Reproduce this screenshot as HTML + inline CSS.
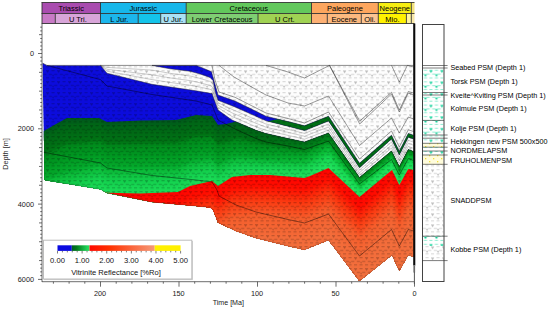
<!DOCTYPE html>
<html lang="en"><head><meta charset="utf-8"><title>Burial history - Vitrinite Reflectance</title>
<style>
html,body{margin:0;padding:0;background:#fff;}
body{width:550px;height:310px;overflow:hidden;}
svg{display:block;position:absolute;left:0;top:0;}
.ylab{position:absolute;left:-34px;top:148.5px;width:80px;height:10px;line-height:10px;text-align:center;font:7.3px 'Liberation Sans',sans-serif;color:#2c2c2c;transform:rotate(-90deg);transform-origin:center;white-space:nowrap;}
</style></head><body>
<svg width="550" height="310" viewBox="0 0 550 310" font-family="'Liberation Sans', sans-serif" font-size="7.3" fill="#1a1a1a">
<defs>
<pattern id="lith" width="11" height="11" patternUnits="userSpaceOnUse" x="2" y="3.2">
 <g fill="#000" fill-opacity="0.16">
  <path d="M0 1h3.1v1h-3.1zM5.5 1h3.1v1h-3.1zM2.75 4.67h3.1v1h-3.1zM8.25 4.67h2.75v1h-2.75zM0 4.67h.35v1h-.35zM0 8.33h3.1v1h-3.1zM5.5 8.33h3.1v1h-3.1z"/>
 </g>
 <g fill="#000" fill-opacity="0.27">
  <path d="M0.2 2h2.8l-1.4 2zM5.7 5.67h2.8l-1.4 2z"/>
 </g>
</pattern>
<pattern id="lithC" width="11" height="11" patternUnits="userSpaceOnUse" x="2" y="3.2">
 <g fill="#000" fill-opacity="0.24">
  <path d="M0 1h3.1v1h-3.1zM5.5 1h3.1v1h-3.1zM2.75 4.67h3.1v1h-3.1zM8.25 4.67h2.75v1h-2.75zM0 4.67h.35v1h-.35zM0 8.33h3.1v1h-3.1zM5.5 8.33h3.1v1h-3.1z"/>
 </g>
 <g fill="#000" fill-opacity="0.24">
  <path d="M0.4 2h2.4l-1.2 1.8zM5.9 5.67h2.4l-1.2 1.8z"/>
 </g>
</pattern>
<pattern id="lithG" width="11" height="11.6" patternUnits="userSpaceOnUse" x="0.4" y="10.8">
 <g fill="#3fe0b0" fill-opacity="0.6">
  <path d="M0 1h3.1v1h-3.1zM5.5 1h3.1v1h-3.1zM2.75 4.87h3.1v1h-3.1zM8.25 4.87h2.75v1h-2.75zM0 4.87h.35v1h-.35zM0 8.73h3.1v1h-3.1zM5.5 8.73h3.1v1h-3.1z"/>
 </g>
 <g fill="#00cc90" fill-opacity="0.95">
  <path d="M0 1.6h3.2l-1.6 2.6zM5.5 5.47h3.2l-1.6 2.6z"/>
 </g>
</pattern>
<pattern id="lithY" width="8" height="6" patternUnits="userSpaceOnUse" x="0" y="1">
 <rect width="8" height="6" fill="#fffcdc"/>
 <g fill="#f2df3a"><rect x="1" y="1" width="1.3" height="1.3"/><rect x="5" y="4" width="1.3" height="1.3"/></g>
</pattern>
<clipPath id="plotclip"><rect x="42.5" y="24" width="371.5" height="257.5"/></clipPath>
</defs>
<rect width="550" height="310" fill="#fff"/>
<g clip-path="url(#plotclip)">
<defs><clipPath id="body"><polygon points="42.3,63.0 47.0,65.4 413.5,65.4 413.5,257.0 408.3,255.0 399.3,270.7 392.0,255.0 359.5,281.0 328.5,240.0 304.5,249.7 288.0,246.0 256.0,238.0 236.0,231.0 218.0,222.5 213.0,209.5 210.0,207.5 196.0,206.0 152.0,202.0 107.0,193.0 100.5,189.3 47.0,180.4 44.8,180.0"/></clipPath>
<clipPath id="mainbody"><polygon points="42.3,63.0 47.0,65.4 100.5,65.4 107.0,73.2 152.0,84.3 196.0,90.8 212.0,93.6 218.0,110.0 232.0,120.0 256.0,130.3 266.0,133.5 288.0,138.5 304.5,142.0 328.5,133.0 359.5,177.5 391.5,151.0 399.3,166.5 408.3,149.5 413.5,151.5 413.5,257.0 408.3,255.0 399.3,270.7 392.0,255.0 359.5,281.0 328.5,240.0 304.5,249.7 288.0,246.0 256.0,238.0 236.0,231.0 218.0,222.5 213.0,209.5 210.0,207.5 196.0,206.0 152.0,202.0 107.0,193.0 100.5,189.3 47.0,180.4 44.8,180.0"/></clipPath>
<clipPath id="hekk"><polygon points="152.0,65.4 170.0,65.4 190.0,65.4 196.5,65.4 200.0,66.9 210.0,71.1 211.5,71.7 213.0,77.1 215.5,86.0 218.0,95.0 235.0,101.0 266.0,116.2 288.0,121.6 304.5,125.8 328.5,116.2 359.5,163.2 391.5,135.2 399.3,151.2 408.3,133.4 413.5,135.2 413.5,139.0 408.3,137.2 399.3,155.0 391.5,139.0 359.5,167.8 328.5,121.0 304.5,130.6 288.0,126.2 266.0,120.8 235.0,107.0 218.0,100.3 215.5,93.0 213.0,80.5 211.5,79.0 210.0,77.5 200.0,74.0 196.5,73.1 190.0,71.3 170.0,68.8 152.0,65.4"/></clipPath>
</defs>
<polygon points="42.3,63.0 47.0,65.4 413.5,65.4 413.5,257.0 408.3,255.0 399.3,270.7 392.0,255.0 359.5,281.0 328.5,240.0 304.5,249.7 288.0,246.0 256.0,238.0 236.0,231.0 218.0,222.5 213.0,209.5 210.0,207.5 196.0,206.0 152.0,202.0 107.0,193.0 100.5,189.3 47.0,180.4 44.8,180.0" fill="#fdfdfd"/>
<polygon points="42.3,63.0 47.0,65.4 413.5,65.4 413.5,257.0 408.3,255.0 399.3,270.7 392.0,255.0 359.5,281.0 328.5,240.0 304.5,249.7 288.0,246.0 256.0,238.0 236.0,231.0 218.0,222.5 213.0,209.5 210.0,207.5 196.0,206.0 152.0,202.0 107.0,193.0 100.5,189.3 47.0,180.4 44.8,180.0" fill="url(#lith)"/>
<g clip-path="url(#mainbody)">
<rect x="42" y="60" width="373" height="225" fill="#0c0cdc"/>
<linearGradient id="gg0" gradientUnits="userSpaceOnUse" x1="262" y1="0" x2="345" y2="0"><stop offset="0" stop-color="#00591c"/><stop offset="1" stop-color="#00671b"/></linearGradient>
<polygon points="37.0,132.0 42.0,132.0 56.0,124.0 67.0,118.0 70.0,118.0 99.0,118.0 107.0,122.0 140.0,120.5 176.0,120.0 178.0,119.5 190.0,116.5 196.0,115.0 212.0,116.0 218.0,124.7 226.0,124.0 232.0,122.5 238.0,121.0 250.0,125.2 256.0,127.3 266.0,130.5 270.0,131.4 288.0,135.5 304.5,139.0 310.0,136.9 328.5,130.0 359.5,174.5 391.5,148.0 392.0,149.0 399.3,163.5 408.3,146.5 413.5,148.5 418.5,148.5 418.5,400.0 37.0,400.0" fill="url(#gg0)"/>
<linearGradient id="gg1" gradientUnits="userSpaceOnUse" x1="262" y1="0" x2="345" y2="0"><stop offset="0" stop-color="#005f19"/><stop offset="1" stop-color="#006e1a"/></linearGradient>
<polygon points="37.0,134.6 42.0,134.6 56.0,126.8 67.0,121.0 70.0,120.9 99.0,120.5 107.0,124.5 140.0,123.1 176.0,122.6 178.0,122.1 190.0,119.0 196.0,117.5 212.0,118.3 218.0,126.9 226.0,126.0 232.0,124.4 238.0,123.0 250.0,127.0 256.0,129.0 266.0,132.1 270.0,133.0 288.0,137.0 304.5,140.4 310.0,138.3 328.5,131.4 359.5,175.3 391.5,148.8 392.0,149.7 399.3,164.3 408.3,147.3 413.5,149.3 418.5,149.3 418.5,400.0 37.0,400.0" fill="url(#gg1)"/>
<linearGradient id="gg2" gradientUnits="userSpaceOnUse" x1="262" y1="0" x2="345" y2="0"><stop offset="0" stop-color="#006516"/><stop offset="1" stop-color="#007418"/></linearGradient>
<polygon points="37.0,137.3 42.0,137.3 56.0,129.6 67.0,123.9 70.0,123.9 99.0,123.1 107.0,127.1 140.0,125.7 176.0,125.1 178.0,124.7 190.0,121.5 196.0,120.0 212.0,120.6 218.0,129.1 226.0,128.1 232.0,126.4 238.0,125.0 250.0,128.8 256.0,130.7 266.0,133.7 270.0,134.5 288.0,138.4 304.5,141.8 310.0,139.7 328.5,132.7 359.5,176.1 391.5,149.6 392.0,150.5 399.3,165.0 408.3,148.1 413.5,150.0 418.5,150.0 418.5,400.0 37.0,400.0" fill="url(#gg2)"/>
<linearGradient id="gg3" gradientUnits="userSpaceOnUse" x1="262" y1="0" x2="345" y2="0"><stop offset="0" stop-color="#006716"/><stop offset="1" stop-color="#007a19"/></linearGradient>
<polygon points="37.0,139.9 42.0,139.9 56.0,132.5 67.0,126.9 70.0,126.8 99.0,125.6 107.0,129.6 140.0,128.3 176.0,127.7 178.0,127.3 190.0,123.9 196.0,122.5 212.0,123.0 218.0,131.3 226.0,130.1 232.0,128.3 238.0,126.9 250.0,130.5 256.0,132.4 266.0,135.3 270.0,136.1 288.0,139.9 304.5,143.2 310.0,141.1 328.5,134.1 359.5,176.9 391.5,150.4 392.0,151.2 399.3,165.8 408.3,148.9 413.5,150.8 418.5,150.8 418.5,400.0 37.0,400.0" fill="url(#gg3)"/>
<linearGradient id="gg4" gradientUnits="userSpaceOnUse" x1="262" y1="0" x2="345" y2="0"><stop offset="0" stop-color="#006915"/><stop offset="1" stop-color="#00811a"/></linearGradient>
<polygon points="37.0,142.6 42.0,142.6 56.0,135.3 67.0,129.8 70.0,129.7 99.0,128.2 107.0,132.1 140.0,130.9 176.0,130.3 178.0,129.9 190.0,126.4 196.0,124.9 212.0,125.3 218.0,133.5 226.0,132.1 232.0,130.3 238.0,128.9 250.0,132.3 256.0,134.1 266.0,136.9 270.0,137.6 288.0,141.4 304.5,144.6 310.0,142.5 328.5,135.4 359.5,177.7 391.5,151.2 392.0,152.0 399.3,166.6 408.3,149.7 413.5,151.6 418.5,151.6 418.5,400.0 37.0,400.0" fill="url(#gg4)"/>
<linearGradient id="gg5" gradientUnits="userSpaceOnUse" x1="262" y1="0" x2="345" y2="0"><stop offset="0" stop-color="#006c15"/><stop offset="1" stop-color="#00871b"/></linearGradient>
<polygon points="37.0,145.2 42.0,145.2 56.0,138.1 67.0,132.8 70.0,132.6 99.0,130.7 107.0,134.6 140.0,133.5 176.0,132.9 178.0,132.4 190.0,128.9 196.0,127.4 212.0,127.6 218.0,135.6 226.0,134.2 232.0,132.2 238.0,130.9 250.0,134.1 256.0,135.8 266.0,138.4 270.0,139.2 288.0,142.8 304.5,146.0 310.0,143.9 328.5,136.8 359.5,178.5 391.5,152.0 392.0,152.7 399.3,167.3 408.3,150.5 413.5,152.3 418.5,152.3 418.5,400.0 37.0,400.0" fill="url(#gg5)"/>
<linearGradient id="gg6" gradientUnits="userSpaceOnUse" x1="262" y1="0" x2="345" y2="0"><stop offset="0" stop-color="#006e15"/><stop offset="1" stop-color="#008d1c"/></linearGradient>
<polygon points="37.0,147.9 42.0,147.9 56.0,140.9 67.0,135.7 70.0,135.6 99.0,133.3 107.0,137.2 140.0,136.1 176.0,135.4 178.0,135.0 190.0,131.4 196.0,129.9 212.0,129.9 218.0,137.8 226.0,136.2 232.0,134.2 238.0,132.9 250.0,135.9 256.0,137.5 266.0,140.0 270.0,140.8 288.0,144.3 304.5,147.4 310.0,145.3 328.5,138.1 359.5,179.3 391.5,152.8 392.0,153.5 399.3,168.1 408.3,151.3 413.5,153.1 418.5,153.1 418.5,400.0 37.0,400.0" fill="url(#gg6)"/>
<linearGradient id="gg7" gradientUnits="userSpaceOnUse" x1="262" y1="0" x2="345" y2="0"><stop offset="0" stop-color="#007114"/><stop offset="1" stop-color="#01941e"/></linearGradient>
<polygon points="37.0,150.5 42.0,150.5 56.0,143.8 67.0,138.7 70.0,138.5 99.0,135.8 107.0,139.7 140.0,138.8 176.0,138.0 178.0,137.6 190.0,133.9 196.0,132.4 212.0,132.2 218.0,140.0 226.0,138.2 232.0,136.1 238.0,134.8 250.0,137.7 256.0,139.2 266.0,141.6 270.0,142.3 288.0,145.8 304.5,148.8 310.0,146.7 328.5,139.5 359.5,180.1 391.5,153.6 392.0,154.2 399.3,168.9 408.3,152.1 413.5,153.9 418.5,153.9 418.5,400.0 37.0,400.0" fill="url(#gg7)"/>
<linearGradient id="gg8" gradientUnits="userSpaceOnUse" x1="262" y1="0" x2="345" y2="0"><stop offset="0" stop-color="#007716"/><stop offset="1" stop-color="#029b22"/></linearGradient>
<polygon points="37.0,153.1 42.0,153.1 56.0,146.6 67.0,141.6 70.0,141.4 99.0,138.4 107.0,142.2 140.0,141.4 176.0,140.6 178.0,140.2 190.0,136.4 196.0,134.9 212.0,134.6 218.0,142.2 226.0,140.2 232.0,138.1 238.0,136.8 250.0,139.4 256.0,140.9 266.0,143.2 270.0,143.9 288.0,147.2 304.5,150.1 310.0,148.1 328.5,140.9 359.5,180.9 391.5,154.4 392.0,155.0 399.3,169.6 408.3,152.9 413.5,154.6 418.5,154.6 418.5,400.0 37.0,400.0" fill="url(#gg8)"/>
<linearGradient id="gg9" gradientUnits="userSpaceOnUse" x1="262" y1="0" x2="345" y2="0"><stop offset="0" stop-color="#00861a"/><stop offset="1" stop-color="#04a327"/></linearGradient>
<polygon points="37.0,155.8 42.0,155.8 56.0,149.4 67.0,144.6 70.0,144.4 99.0,140.9 107.0,144.8 140.0,144.0 176.0,143.2 178.0,142.8 190.0,138.8 196.0,137.4 212.0,136.9 218.0,144.4 226.0,142.3 232.0,140.0 238.0,138.8 250.0,141.2 256.0,142.6 266.0,144.8 270.0,145.4 288.0,148.7 304.5,151.5 310.0,149.5 328.5,142.2 359.5,181.7 391.5,155.2 392.0,155.7 399.3,170.4 408.3,153.7 413.5,155.4 418.5,155.4 418.5,400.0 37.0,400.0" fill="url(#gg9)"/>
<linearGradient id="gg10" gradientUnits="userSpaceOnUse" x1="262" y1="0" x2="345" y2="0"><stop offset="0" stop-color="#008d1c"/><stop offset="1" stop-color="#05ab2b"/></linearGradient>
<polygon points="37.0,158.4 42.0,158.4 56.0,152.2 67.0,147.5 70.0,147.3 99.0,143.5 107.0,147.3 140.0,146.6 176.0,145.7 178.0,145.4 190.0,141.3 196.0,139.9 212.0,139.2 218.0,146.6 226.0,144.3 232.0,142.0 238.0,140.8 250.0,143.0 256.0,144.3 266.0,146.4 270.0,147.0 288.0,150.2 304.5,152.9 310.0,150.9 328.5,143.6 359.5,182.5 391.5,156.0 392.0,156.5 399.3,171.2 408.3,154.5 413.5,156.2 418.5,156.2 418.5,400.0 37.0,400.0" fill="url(#gg10)"/>
<linearGradient id="gg11" gradientUnits="userSpaceOnUse" x1="262" y1="0" x2="345" y2="0"><stop offset="0" stop-color="#00901e"/><stop offset="1" stop-color="#07b22f"/></linearGradient>
<polygon points="37.0,161.1 42.0,161.1 56.0,155.0 67.0,150.5 70.0,150.2 99.0,146.0 107.0,149.8 140.0,149.2 176.0,148.3 178.0,148.0 190.0,143.8 196.0,142.4 212.0,141.5 218.0,148.8 226.0,146.3 232.0,143.9 238.0,142.7 250.0,144.8 256.0,146.0 266.0,148.0 270.0,148.5 288.0,151.6 304.5,154.3 310.0,152.3 328.5,144.9 359.5,183.3 391.5,156.8 392.0,157.2 399.3,171.9 408.3,155.3 413.5,156.9 418.5,156.9 418.5,400.0 37.0,400.0" fill="url(#gg11)"/>
<linearGradient id="gg12" gradientUnits="userSpaceOnUse" x1="262" y1="0" x2="345" y2="0"><stop offset="0" stop-color="#009420"/><stop offset="1" stop-color="#08b834"/></linearGradient>
<polygon points="37.0,163.7 42.0,163.7 56.0,157.9 67.0,153.4 70.0,153.1 99.0,148.6 107.0,152.3 140.0,151.8 176.0,150.9 178.0,150.6 190.0,146.3 196.0,144.8 212.0,143.9 218.0,151.0 226.0,148.4 232.0,145.9 238.0,144.7 250.0,146.5 256.0,147.7 266.0,149.6 270.0,150.1 288.0,153.1 304.5,155.7 310.0,153.7 328.5,146.3 359.5,184.1 391.5,157.6 392.0,158.0 399.3,172.7 408.3,156.1 413.5,157.7 418.5,157.7 418.5,400.0 37.0,400.0" fill="url(#gg12)"/>
<linearGradient id="gg13" gradientUnits="userSpaceOnUse" x1="262" y1="0" x2="345" y2="0"><stop offset="0" stop-color="#009821"/><stop offset="1" stop-color="#0abf38"/></linearGradient>
<polygon points="37.0,166.4 42.0,166.4 56.0,160.7 67.0,156.4 70.0,156.1 99.0,151.1 107.0,154.9 140.0,154.4 176.0,153.5 178.0,153.2 190.0,148.8 196.0,147.3 212.0,146.2 218.0,153.2 226.0,150.4 232.0,147.8 238.0,146.7 250.0,148.3 256.0,149.4 266.0,151.2 270.0,151.6 288.0,154.6 304.5,157.1 310.0,155.1 328.5,147.6 359.5,184.9 391.5,158.4 392.0,158.7 399.3,173.5 408.3,156.9 413.5,158.5 418.5,158.5 418.5,400.0 37.0,400.0" fill="url(#gg13)"/>
<linearGradient id="gg14" gradientUnits="userSpaceOnUse" x1="262" y1="0" x2="345" y2="0"><stop offset="0" stop-color="#019c23"/><stop offset="1" stop-color="#0cc53c"/></linearGradient>
<polygon points="37.0,169.0 42.0,169.0 56.0,163.5 67.0,159.3 70.0,159.0 99.0,153.7 107.0,157.4 140.0,157.0 176.0,156.0 178.0,155.8 190.0,151.2 196.0,149.8 212.0,148.5 218.0,155.3 226.0,152.4 232.0,149.8 238.0,148.7 250.0,150.1 256.0,151.2 266.0,152.8 270.0,153.2 288.0,156.0 304.5,158.5 310.0,156.5 328.5,149.0 359.5,185.8 391.5,159.2 392.0,159.5 399.3,174.2 408.3,157.8 413.5,159.2 418.5,159.2 418.5,400.0 37.0,400.0" fill="url(#gg14)"/>
<linearGradient id="gg15" gradientUnits="userSpaceOnUse" x1="262" y1="0" x2="345" y2="0"><stop offset="0" stop-color="#02a026"/><stop offset="1" stop-color="#0ecb40"/></linearGradient>
<polygon points="37.0,171.6 42.0,171.6 56.0,166.3 67.0,162.3 70.0,161.9 99.0,156.2 107.0,159.9 140.0,159.6 176.0,158.6 178.0,158.3 190.0,153.7 196.0,152.3 212.0,150.8 218.0,157.5 226.0,154.5 232.0,151.7 238.0,150.6 250.0,151.9 256.0,152.9 266.0,154.3 270.0,154.8 288.0,157.5 304.5,159.9 310.0,157.9 328.5,150.4 359.5,186.6 391.5,160.0 392.0,160.2 399.3,175.0 408.3,158.6 413.5,160.0 418.5,160.0 418.5,400.0 37.0,400.0" fill="url(#gg15)"/>
<linearGradient id="gg16" gradientUnits="userSpaceOnUse" x1="262" y1="0" x2="345" y2="0"><stop offset="0" stop-color="#03a428"/><stop offset="1" stop-color="#11cf45"/></linearGradient>
<polygon points="37.0,174.3 42.0,174.3 56.0,169.1 67.0,165.2 70.0,164.9 99.0,158.7 107.0,162.5 140.0,162.2 176.0,161.2 178.0,160.9 190.0,156.2 196.0,154.8 212.0,153.1 218.0,159.7 226.0,156.5 232.0,153.6 238.0,152.6 250.0,153.7 256.0,154.6 266.0,155.9 270.0,156.3 288.0,159.0 304.5,161.3 310.0,159.3 328.5,151.7 359.5,187.4 391.5,160.8 392.0,161.0 399.3,175.8 408.3,159.4 413.5,160.8 418.5,160.8 418.5,400.0 37.0,400.0" fill="url(#gg16)"/>
<linearGradient id="gg17" gradientUnits="userSpaceOnUse" x1="262" y1="0" x2="345" y2="0"><stop offset="0" stop-color="#04a82b"/><stop offset="1" stop-color="#13d44a"/></linearGradient>
<polygon points="37.0,176.9 42.0,176.9 56.0,172.0 67.0,168.2 70.0,167.8 99.0,161.3 107.0,165.0 140.0,164.8 176.0,163.8 178.0,163.5 190.0,158.7 196.0,157.3 212.0,155.5 218.0,161.9 226.0,158.5 232.0,155.6 238.0,154.6 250.0,155.4 256.0,156.3 266.0,157.5 270.0,157.9 288.0,160.4 304.5,162.7 310.0,160.7 328.5,153.1 359.5,188.2 391.5,161.6 392.0,161.7 399.3,176.6 408.3,160.2 413.5,161.6 418.5,161.6 418.5,400.0 37.0,400.0" fill="url(#gg17)"/>
<linearGradient id="gg18" gradientUnits="userSpaceOnUse" x1="262" y1="0" x2="345" y2="0"><stop offset="0" stop-color="#06b031"/><stop offset="1" stop-color="#15d84f"/></linearGradient>
<polygon points="37.0,179.6 42.0,179.6 56.0,174.8 67.0,171.1 70.0,170.7 99.0,163.8 107.0,167.5 140.0,167.4 176.0,166.3 178.0,166.1 190.0,161.2 196.0,159.8 212.0,157.8 218.0,164.1 226.0,160.6 232.0,157.5 238.0,156.6 250.0,157.2 256.0,158.0 266.0,159.1 270.0,159.4 288.0,161.9 304.5,164.1 310.0,162.0 328.5,154.4 359.5,189.0 391.5,162.4 392.0,162.5 399.3,177.3 408.3,161.0 413.5,162.3 418.5,162.3 418.5,400.0 37.0,400.0" fill="url(#gg18)"/>
<linearGradient id="gg19" gradientUnits="userSpaceOnUse" x1="262" y1="0" x2="345" y2="0"><stop offset="0" stop-color="#0bbb39"/><stop offset="1" stop-color="#18dc54"/></linearGradient>
<polygon points="37.0,182.2 42.0,182.2 56.0,177.6 67.0,174.1 70.0,173.6 99.0,166.4 107.0,170.0 140.0,170.0 176.0,168.9 178.0,168.7 190.0,163.7 196.0,162.3 212.0,160.1 218.0,166.3 226.0,162.6 232.0,159.5 238.0,158.5 250.0,159.0 256.0,159.7 266.0,160.7 270.0,161.0 288.0,163.4 304.5,165.5 310.0,163.4 328.5,155.8 359.5,189.8 391.5,163.2 392.0,163.2 399.3,178.1 408.3,161.8 413.5,163.1 418.5,163.1 418.5,400.0 37.0,400.0" fill="url(#gg19)"/>
<linearGradient id="gg20" gradientUnits="userSpaceOnUse" x1="262" y1="0" x2="345" y2="0"><stop offset="0" stop-color="#0dc13e"/><stop offset="1" stop-color="#19dd56"/></linearGradient>
<polygon points="37.0,184.9 42.0,184.9 56.0,180.4 67.0,177.0 70.0,176.6 99.0,168.9 107.0,172.6 140.0,172.6 176.0,171.5 178.0,171.3 190.0,166.1 196.0,164.7 212.0,162.4 218.0,168.5 226.0,164.6 232.0,161.4 238.0,160.5 250.0,160.8 256.0,161.4 266.0,162.3 270.0,162.5 288.0,164.8 304.5,166.9 310.0,164.8 328.5,157.1 359.5,190.6 391.5,164.0 392.0,164.0 399.3,178.9 408.3,162.6 413.5,163.9 418.5,163.9 418.5,400.0 37.0,400.0" fill="url(#gg20)"/>
<linearGradient id="gg21" gradientUnits="userSpaceOnUse" x1="262" y1="0" x2="345" y2="0"><stop offset="0" stop-color="#0fc643"/><stop offset="1" stop-color="#1bde57"/></linearGradient>
<polygon points="37.0,187.5 42.0,187.5 56.0,183.2 67.0,180.0 70.0,179.5 99.0,171.5 107.0,175.1 140.0,175.2 176.0,174.1 178.0,173.9 190.0,168.6 196.0,167.2 212.0,164.8 218.0,170.7 226.0,166.6 232.0,163.4 238.0,162.5 250.0,162.6 256.0,163.1 266.0,163.9 270.0,164.1 288.0,166.3 304.5,168.2 310.0,166.2 328.5,158.5 359.5,191.4 391.5,164.8 392.0,164.7 399.3,179.6 408.3,163.4 413.5,164.6 418.5,164.6 418.5,400.0 37.0,400.0" fill="url(#gg21)"/>
<linearGradient id="gg22" gradientUnits="userSpaceOnUse" x1="262" y1="0" x2="345" y2="0"><stop offset="0" stop-color="#11cb48"/><stop offset="1" stop-color="#1cdf59"/></linearGradient>
<polygon points="37.0,190.1 42.0,190.1 56.0,186.1 67.0,182.9 70.0,182.4 99.0,174.0 107.0,177.6 140.0,177.9 176.0,176.6 178.0,176.5 190.0,171.1 196.0,169.7 212.0,167.1 218.0,172.9 226.0,168.7 232.0,165.3 238.0,164.5 250.0,164.3 256.0,164.8 266.0,165.5 270.0,165.7 288.0,167.8 304.5,169.6 310.0,167.6 328.5,159.9 359.5,192.2 391.5,165.6 392.0,165.5 399.3,180.4 408.3,164.2 413.5,165.4 418.5,165.4 418.5,400.0 37.0,400.0" fill="url(#gg22)"/>
<linearGradient id="gg23" gradientUnits="userSpaceOnUse" x1="262" y1="0" x2="345" y2="0"><stop offset="0" stop-color="#13d04d"/><stop offset="1" stop-color="#1ee15a"/></linearGradient>
<polygon points="37.0,192.8 42.0,192.8 56.0,188.9 67.0,185.9 70.0,185.4 99.0,176.6 107.0,180.2 140.0,180.5 176.0,179.2 178.0,179.1 190.0,173.6 196.0,172.2 212.0,169.4 218.0,175.1 226.0,170.7 232.0,167.3 238.0,166.5 250.0,166.1 256.0,166.5 266.0,167.1 270.0,167.2 288.0,169.2 304.5,171.0 310.0,169.0 328.5,161.2 359.5,193.0 391.5,166.4 392.0,166.2 399.3,181.2 408.3,165.0 413.5,166.2 418.5,166.2 418.5,400.0 37.0,400.0" fill="url(#gg23)"/>
<linearGradient id="gg24" gradientUnits="userSpaceOnUse" x1="262" y1="0" x2="345" y2="0"><stop offset="0" stop-color="#15d450"/><stop offset="1" stop-color="#1fe25c"/></linearGradient>
<polygon points="37.0,195.4 42.0,195.4 56.0,191.7 67.0,188.8 70.0,188.3 99.0,179.1 107.0,182.7 140.0,183.1 176.0,181.8 178.0,181.6 190.0,176.1 196.0,174.7 212.0,171.7 218.0,177.2 226.0,172.7 232.0,169.2 238.0,168.4 250.0,167.9 256.0,168.2 266.0,168.6 270.0,168.8 288.0,170.7 304.5,172.4 310.0,170.4 328.5,162.6 359.5,193.8 391.5,167.2 392.0,167.0 399.3,181.9 408.3,165.8 413.5,166.9 418.5,166.9 418.5,400.0 37.0,400.0" fill="url(#gg24)"/>
<linearGradient id="gg25" gradientUnits="userSpaceOnUse" x1="262" y1="0" x2="345" y2="0"><stop offset="0" stop-color="#17d652"/><stop offset="1" stop-color="#20e35e"/></linearGradient>
<polygon points="37.0,198.1 42.0,198.1 56.0,194.5 67.0,191.8 70.0,191.2 99.0,181.7 107.0,185.2 140.0,185.7 176.0,184.4 178.0,184.2 190.0,178.6 196.0,177.2 212.0,174.0 218.0,179.4 226.0,174.8 232.0,171.2 238.0,170.4 250.0,169.7 256.0,169.9 266.0,170.2 270.0,170.3 288.0,172.2 304.5,173.8 310.0,171.8 328.5,163.9 359.5,194.6 391.5,168.0 392.0,167.7 399.3,182.7 408.3,166.6 413.5,167.7 418.5,167.7 418.5,400.0 37.0,400.0" fill="url(#gg25)"/>
<linearGradient id="gg26" gradientUnits="userSpaceOnUse" x1="262" y1="0" x2="345" y2="0"><stop offset="0" stop-color="#18d954"/><stop offset="1" stop-color="#22e460"/></linearGradient>
<polygon points="37.0,200.7 42.0,200.7 56.0,197.4 67.0,194.7 70.0,194.1 99.0,184.2 107.0,187.7 140.0,188.3 176.0,186.9 178.0,186.8 190.0,181.0 196.0,179.7 212.0,176.4 218.0,181.6 226.0,176.8 232.0,173.1 238.0,172.4 250.0,171.4 256.0,171.6 266.0,171.8 270.0,171.9 288.0,173.6 304.5,175.2 310.0,173.2 328.5,165.3 359.5,195.4 391.5,168.8 392.0,168.5 399.3,183.5 408.3,167.4 413.5,168.5 418.5,168.5 418.5,400.0 37.0,400.0" fill="url(#gg26)"/>
<linearGradient id="gg27" gradientUnits="userSpaceOnUse" x1="262" y1="0" x2="345" y2="0"><stop offset="0" stop-color="#1adc57"/><stop offset="1" stop-color="#23e561"/></linearGradient>
<polygon points="37.0,203.4 42.0,203.4 56.0,200.2 67.0,197.7 70.0,197.1 99.0,186.8 107.0,190.3 140.0,190.9 176.0,189.5 178.0,189.4 190.0,183.5 196.0,182.1 212.0,178.7 218.0,183.8 226.0,178.8 232.0,175.1 238.0,174.4 250.0,173.2 256.0,173.3 266.0,173.4 270.0,173.4 288.0,175.1 304.5,176.6 310.0,174.6 328.5,166.6 359.5,196.2 391.5,169.6 392.0,169.2 399.3,184.2 408.3,168.2 413.5,169.2 418.5,169.2 418.5,400.0 37.0,400.0" fill="url(#gg27)"/>
<polygon points="39.0,197.3 99.0,189.3 107.0,192.8 140.0,193.5 178.0,192.0 190.0,186.0 212.0,181.0 218.0,186.0 232.0,177.0 250.0,175.0 270.0,175.0 304.5,178.0 310.0,176.0 328.5,168.0 359.5,197.0 392.0,170.0 399.3,185.0 408.3,169.0 413.5,170.0 418.5,170.0 418.5,400.0 39.0,400.0" fill="#ff0400"/>
<polygon points="39.0,199.3 99.0,191.3 107.0,194.8 140.0,195.5 178.0,194.0 190.0,188.0 212.0,183.0 218.0,188.0 232.0,179.0 250.0,177.0 270.0,177.0 304.5,180.0 310.0,178.0 328.5,170.0 359.5,199.0 392.0,172.0 399.3,187.0 408.3,171.0 413.5,172.0 418.5,172.0 418.5,400.0 39.0,400.0" fill="#ff0600"/>
<polygon points="39.0,201.3 99.0,193.3 107.0,196.8 140.0,197.5 178.0,196.0 190.0,190.0 212.0,185.0 218.0,190.0 232.0,181.0 250.0,179.0 270.0,179.0 304.5,182.0 310.0,180.0 328.5,172.0 359.5,201.0 392.0,174.0 399.3,189.0 408.3,173.0 413.5,174.0 418.5,174.0 418.5,400.0 39.0,400.0" fill="#ff0800"/>
<polygon points="39.0,203.3 99.0,195.3 107.0,198.8 140.0,199.5 178.0,198.0 190.0,192.0 212.0,187.0 218.0,192.0 232.0,183.0 250.0,181.0 270.0,181.0 304.5,184.0 310.0,182.0 328.5,174.0 359.5,203.0 392.0,176.0 399.3,191.0 408.3,175.0 413.5,176.0 418.5,176.0 418.5,400.0 39.0,400.0" fill="#ff0a00"/>
<polygon points="39.0,205.3 99.0,197.3 107.0,200.8 140.0,201.5 178.0,200.0 190.0,194.0 212.0,189.0 218.0,194.0 232.0,185.0 250.0,183.0 270.0,183.0 304.5,186.0 310.0,184.0 328.5,176.0 359.5,205.0 392.0,178.0 399.3,193.0 408.3,177.0 413.5,178.0 418.5,178.0 418.5,400.0 39.0,400.0" fill="#ff0c00"/>
<polygon points="39.0,207.3 99.0,199.3 107.0,202.8 140.0,203.5 178.0,202.0 190.0,196.0 212.0,191.0 218.0,196.0 232.0,187.0 250.0,185.0 270.0,185.0 304.5,188.0 310.0,186.0 328.5,178.0 359.5,207.0 392.0,180.0 399.3,195.0 408.3,179.0 413.5,180.0 418.5,180.0 418.5,400.0 39.0,400.0" fill="#ff0e00"/>
<polygon points="39.0,209.3 99.0,201.3 107.0,204.8 140.0,205.5 178.0,204.0 190.0,198.0 212.0,193.0 218.0,198.0 232.0,189.0 250.0,187.0 270.0,187.0 304.5,190.0 310.0,188.0 328.5,180.0 359.5,209.0 392.0,182.0 399.3,197.0 408.3,181.0 413.5,182.0 418.5,182.0 418.5,400.0 39.0,400.0" fill="#ff1402"/>
<polygon points="39.0,211.3 99.0,203.3 107.0,206.8 140.0,207.5 178.0,206.0 190.0,200.0 212.0,195.0 218.0,200.0 232.0,191.0 250.0,189.0 270.0,189.0 304.5,192.0 310.0,190.0 328.5,182.0 359.5,211.0 392.0,184.0 399.3,199.0 408.3,183.0 413.5,184.0 418.5,184.0 418.5,400.0 39.0,400.0" fill="#fe1a05"/>
<polygon points="39.0,213.3 99.0,205.3 107.0,208.8 140.0,209.5 178.0,208.0 190.0,202.0 212.0,197.0 218.0,202.0 232.0,193.0 250.0,191.0 270.0,191.0 304.5,194.0 310.0,192.0 328.5,184.0 359.5,213.0 392.0,186.0 399.3,201.0 408.3,185.0 413.5,186.0 418.5,186.0 418.5,400.0 39.0,400.0" fill="#fe2007"/>
<polygon points="39.0,215.3 99.0,207.3 107.0,210.8 140.0,211.5 178.0,210.0 190.0,204.0 212.0,199.0 218.0,204.0 232.0,195.0 250.0,193.0 270.0,193.0 304.5,196.0 310.0,194.0 328.5,186.0 359.5,215.0 392.0,188.0 399.3,203.0 408.3,187.0 413.5,188.0 418.5,188.0 418.5,400.0 39.0,400.0" fill="#fd2609"/>
<polygon points="39.0,217.3 99.0,209.3 107.0,212.8 140.0,213.5 178.0,212.0 190.0,206.0 212.0,201.0 218.0,206.0 232.0,197.0 250.0,195.0 270.0,195.0 304.5,198.0 310.0,196.0 328.5,188.0 359.5,217.0 392.0,190.0 399.3,205.0 408.3,189.0 413.5,190.0 418.5,190.0 418.5,400.0 39.0,400.0" fill="#fd2c0b"/>
<polygon points="39.0,219.3 99.0,211.3 107.0,214.8 140.0,215.5 178.0,214.0 190.0,208.0 212.0,203.0 218.0,208.0 232.0,199.0 250.0,197.0 270.0,197.0 304.5,200.0 310.0,198.0 328.5,190.0 359.5,219.0 392.0,192.0 399.3,207.0 408.3,191.0 413.5,192.0 418.5,192.0 418.5,400.0 39.0,400.0" fill="#fc320e"/>
<polygon points="39.0,221.3 99.0,213.3 107.0,216.8 140.0,217.5 178.0,216.0 190.0,210.0 212.0,205.0 218.0,210.0 232.0,201.0 250.0,199.0 270.0,199.0 304.5,202.0 310.0,200.0 328.5,192.0 359.5,221.0 392.0,194.0 399.3,209.0 408.3,193.0 413.5,194.0 418.5,194.0 418.5,400.0 39.0,400.0" fill="#fc3810"/>
<polygon points="39.0,223.3 99.0,215.3 107.0,218.8 140.0,219.5 178.0,218.0 190.0,212.0 212.0,207.0 218.0,212.0 232.0,203.0 250.0,201.0 270.0,201.0 304.5,204.0 310.0,202.0 328.5,194.0 359.5,223.0 392.0,196.0 399.3,211.0 408.3,195.0 413.5,196.0 418.5,196.0 418.5,400.0 39.0,400.0" fill="#fb3d14"/>
<polygon points="39.0,225.3 99.0,217.3 107.0,220.8 140.0,221.5 178.0,220.0 190.0,214.0 212.0,209.0 218.0,214.0 232.0,205.0 250.0,203.0 270.0,203.0 304.5,206.0 310.0,204.0 328.5,196.0 359.5,225.0 392.0,198.0 399.3,213.0 408.3,197.0 413.5,198.0 418.5,198.0 418.5,400.0 39.0,400.0" fill="#fa4217"/>
<polygon points="39.0,227.3 99.0,219.3 107.0,222.8 140.0,223.5 178.0,222.0 190.0,216.0 212.0,211.0 218.0,216.0 232.0,207.0 250.0,205.0 270.0,205.0 304.5,208.0 310.0,206.0 328.5,198.0 359.5,227.0 392.0,200.0 399.3,215.0 408.3,199.0 413.5,200.0 418.5,200.0 418.5,400.0 39.0,400.0" fill="#fa461a"/>
<polygon points="39.0,229.3 99.0,221.3 107.0,224.8 140.0,225.5 178.0,224.0 190.0,218.0 212.0,213.0 218.0,218.0 232.0,209.0 250.0,207.0 270.0,207.0 304.5,210.0 310.0,208.0 328.5,200.0 359.5,229.0 392.0,202.0 399.3,217.0 408.3,201.0 413.5,202.0 418.5,202.0 418.5,400.0 39.0,400.0" fill="#f94b1e"/>
<polygon points="39.0,231.3 99.0,223.3 107.0,226.8 140.0,227.5 178.0,226.0 190.0,220.0 212.0,215.0 218.0,220.0 232.0,211.0 250.0,209.0 270.0,209.0 304.5,212.0 310.0,210.0 328.5,202.0 359.5,231.0 392.0,204.0 399.3,219.0 408.3,203.0 413.5,204.0 418.5,204.0 418.5,400.0 39.0,400.0" fill="#f85022"/>
<polygon points="39.0,233.3 99.0,225.3 107.0,228.8 140.0,229.5 178.0,228.0 190.0,222.0 212.0,217.0 218.0,222.0 232.0,213.0 250.0,211.0 270.0,211.0 304.5,214.0 310.0,212.0 328.5,204.0 359.5,233.0 392.0,206.0 399.3,221.0 408.3,205.0 413.5,206.0 418.5,206.0 418.5,400.0 39.0,400.0" fill="#f85425"/>
<polygon points="39.0,235.3 99.0,227.3 107.0,230.8 140.0,231.5 178.0,230.0 190.0,224.0 212.0,219.0 218.0,224.0 232.0,215.0 250.0,213.0 270.0,213.0 304.5,216.0 310.0,214.0 328.5,206.0 359.5,235.0 392.0,208.0 399.3,223.0 408.3,207.0 413.5,208.0 418.5,208.0 418.5,400.0 39.0,400.0" fill="#f75928"/>
<polygon points="39.0,237.3 99.0,229.3 107.0,232.8 140.0,233.5 178.0,232.0 190.0,226.0 212.0,221.0 218.0,226.0 232.0,217.0 250.0,215.0 270.0,215.0 304.5,218.0 310.0,216.0 328.5,208.0 359.5,237.0 392.0,210.0 399.3,225.0 408.3,209.0 413.5,210.0 418.5,210.0 418.5,400.0 39.0,400.0" fill="#f65e2c"/>
<polygon points="39.0,239.3 99.0,231.3 107.0,234.8 140.0,235.5 178.0,234.0 190.0,228.0 212.0,223.0 218.0,228.0 232.0,219.0 250.0,217.0 270.0,217.0 304.5,220.0 310.0,218.0 328.5,210.0 359.5,239.0 392.0,212.0 399.3,227.0 408.3,211.0 413.5,212.0 418.5,212.0 418.5,400.0 39.0,400.0" fill="#f65f2d"/>
<polygon points="39.0,241.3 99.0,233.3 107.0,236.8 140.0,237.5 178.0,236.0 190.0,230.0 212.0,225.0 218.0,230.0 232.0,221.0 250.0,219.0 270.0,219.0 304.5,222.0 310.0,220.0 328.5,212.0 359.5,241.0 392.0,214.0 399.3,229.0 408.3,213.0 413.5,214.0 418.5,214.0 418.5,400.0 39.0,400.0" fill="#f5612f"/>
<polygon points="39.0,243.3 99.0,235.3 107.0,238.8 140.0,239.5 178.0,238.0 190.0,232.0 212.0,227.0 218.0,232.0 232.0,223.0 250.0,221.0 270.0,221.0 304.5,224.0 310.0,222.0 328.5,214.0 359.5,243.0 392.0,216.0 399.3,231.0 408.3,215.0 413.5,216.0 418.5,216.0 418.5,400.0 39.0,400.0" fill="#f56230"/>
<polygon points="39.0,245.3 99.0,237.3 107.0,240.8 140.0,241.5 178.0,240.0 190.0,234.0 212.0,229.0 218.0,234.0 232.0,225.0 250.0,223.0 270.0,223.0 304.5,226.0 310.0,224.0 328.5,216.0 359.5,245.0 392.0,218.0 399.3,233.0 408.3,217.0 413.5,218.0 418.5,218.0 418.5,400.0 39.0,400.0" fill="#f56331"/>
<polygon points="39.0,247.3 99.0,239.3 107.0,242.8 140.0,243.5 178.0,242.0 190.0,236.0 212.0,231.0 218.0,236.0 232.0,227.0 250.0,225.0 270.0,225.0 304.5,228.0 310.0,226.0 328.5,218.0 359.5,247.0 392.0,220.0 399.3,235.0 408.3,219.0 413.5,220.0 418.5,220.0 418.5,400.0 39.0,400.0" fill="#f56432"/>
<polygon points="39.0,249.3 99.0,241.3 107.0,244.8 140.0,245.5 178.0,244.0 190.0,238.0 212.0,233.0 218.0,238.0 232.0,229.0 250.0,227.0 270.0,227.0 304.5,230.0 310.0,228.0 328.5,220.0 359.5,249.0 392.0,222.0 399.3,237.0 408.3,221.0 413.5,222.0 418.5,222.0 418.5,400.0 39.0,400.0" fill="#f46634"/>
<polygon points="39.0,251.3 99.0,243.3 107.0,246.8 140.0,247.5 178.0,246.0 190.0,240.0 212.0,235.0 218.0,240.0 232.0,231.0 250.0,229.0 270.0,229.0 304.5,232.0 310.0,230.0 328.5,222.0 359.5,251.0 392.0,224.0 399.3,239.0 408.3,223.0 413.5,224.0 418.5,224.0 418.5,400.0 39.0,400.0" fill="#f46735"/>
<polygon points="39.0,253.3 99.0,245.3 107.0,248.8 140.0,249.5 178.0,248.0 190.0,242.0 212.0,237.0 218.0,242.0 232.0,233.0 250.0,231.0 270.0,231.0 304.5,234.0 310.0,232.0 328.5,224.0 359.5,253.0 392.0,226.0 399.3,241.0 408.3,225.0 413.5,226.0 418.5,226.0 418.5,400.0 39.0,400.0" fill="#f46836"/>
<polygon points="39.0,255.3 99.0,247.3 107.0,250.8 140.0,251.5 178.0,250.0 190.0,244.0 212.0,239.0 218.0,244.0 232.0,235.0 250.0,233.0 270.0,233.0 304.5,236.0 310.0,234.0 328.5,226.0 359.5,255.0 392.0,228.0 399.3,243.0 408.3,227.0 413.5,228.0 418.5,228.0 418.5,400.0 39.0,400.0" fill="#f46937"/>
<polygon points="39.0,257.3 99.0,249.3 107.0,252.8 140.0,253.5 178.0,252.0 190.0,246.0 212.0,241.0 218.0,246.0 232.0,237.0 250.0,235.0 270.0,235.0 304.5,238.0 310.0,236.0 328.5,228.0 359.5,257.0 392.0,230.0 399.3,245.0 408.3,229.0 413.5,230.0 418.5,230.0 418.5,400.0 39.0,400.0" fill="#f36b39"/>
<polygon points="39.0,259.3 99.0,251.3 107.0,254.8 140.0,255.5 178.0,254.0 190.0,248.0 212.0,243.0 218.0,248.0 232.0,239.0 250.0,237.0 270.0,237.0 304.5,240.0 310.0,238.0 328.5,230.0 359.5,259.0 392.0,232.0 399.3,247.0 408.3,231.0 413.5,232.0 418.5,232.0 418.5,400.0 39.0,400.0" fill="#f36c3a"/>
<polygon points="39.0,261.3 99.0,253.3 107.0,256.8 140.0,257.5 178.0,256.0 190.0,250.0 212.0,245.0 218.0,250.0 232.0,241.0 250.0,239.0 270.0,239.0 304.5,242.0 310.0,240.0 328.5,232.0 359.5,261.0 392.0,234.0 399.3,249.0 408.3,233.0 413.5,234.0 418.5,234.0 418.5,400.0 39.0,400.0" fill="#f36c3a"/>
<polygon points="39.0,263.3 99.0,255.3 107.0,258.8 140.0,259.5 178.0,258.0 190.0,252.0 212.0,247.0 218.0,252.0 232.0,243.0 250.0,241.0 270.0,241.0 304.5,244.0 310.0,242.0 328.5,234.0 359.5,263.0 392.0,236.0 399.3,251.0 408.3,235.0 413.5,236.0 418.5,236.0 418.5,400.0 39.0,400.0" fill="#f36d3b"/>
<polygon points="39.0,265.3 99.0,257.3 107.0,260.8 140.0,261.5 178.0,260.0 190.0,254.0 212.0,249.0 218.0,254.0 232.0,245.0 250.0,243.0 270.0,243.0 304.5,246.0 310.0,244.0 328.5,236.0 359.5,265.0 392.0,238.0 399.3,253.0 408.3,237.0 413.5,238.0 418.5,238.0 418.5,400.0 39.0,400.0" fill="#f36d3b"/>
<polygon points="39.0,267.3 99.0,259.3 107.0,262.8 140.0,263.5 178.0,262.0 190.0,256.0 212.0,251.0 218.0,256.0 232.0,247.0 250.0,245.0 270.0,245.0 304.5,248.0 310.0,246.0 328.5,238.0 359.5,267.0 392.0,240.0 399.3,255.0 408.3,239.0 413.5,240.0 418.5,240.0 418.5,400.0 39.0,400.0" fill="#f36d3b"/>
<polygon points="39.0,269.3 99.0,261.3 107.0,264.8 140.0,265.5 178.0,264.0 190.0,258.0 212.0,253.0 218.0,258.0 232.0,249.0 250.0,247.0 270.0,247.0 304.5,250.0 310.0,248.0 328.5,240.0 359.5,269.0 392.0,242.0 399.3,257.0 408.3,241.0 413.5,242.0 418.5,242.0 418.5,400.0 39.0,400.0" fill="#f26e3c"/>
<polygon points="39.0,271.3 99.0,263.3 107.0,266.8 140.0,267.5 178.0,266.0 190.0,260.0 212.0,255.0 218.0,260.0 232.0,251.0 250.0,249.0 270.0,249.0 304.5,252.0 310.0,250.0 328.5,242.0 359.5,271.0 392.0,244.0 399.3,259.0 408.3,243.0 413.5,244.0 418.5,244.0 418.5,400.0 39.0,400.0" fill="#f26e3c"/>
<polygon points="39.0,273.3 99.0,265.3 107.0,268.8 140.0,269.5 178.0,268.0 190.0,262.0 212.0,257.0 218.0,262.0 232.0,253.0 250.0,251.0 270.0,251.0 304.5,254.0 310.0,252.0 328.5,244.0 359.5,273.0 392.0,246.0 399.3,261.0 408.3,245.0 413.5,246.0 418.5,246.0 418.5,400.0 39.0,400.0" fill="#f26e3c"/>
<polygon points="39.0,275.3 99.0,267.3 107.0,270.8 140.0,271.5 178.0,270.0 190.0,264.0 212.0,259.0 218.0,264.0 232.0,255.0 250.0,253.0 270.0,253.0 304.5,256.0 310.0,254.0 328.5,246.0 359.5,275.0 392.0,248.0 399.3,263.0 408.3,247.0 413.5,248.0 418.5,248.0 418.5,400.0 39.0,400.0" fill="#f26f3d"/>
<polygon points="39.0,277.3 99.0,269.3 107.0,272.8 140.0,273.5 178.0,272.0 190.0,266.0 212.0,261.0 218.0,266.0 232.0,257.0 250.0,255.0 270.0,255.0 304.5,258.0 310.0,256.0 328.5,248.0 359.5,277.0 392.0,250.0 399.3,265.0 408.3,249.0 413.5,250.0 418.5,250.0 418.5,400.0 39.0,400.0" fill="#f26f3d"/>
<polygon points="39.0,279.3 99.0,271.3 107.0,274.8 140.0,275.5 178.0,274.0 190.0,268.0 212.0,263.0 218.0,268.0 232.0,259.0 250.0,257.0 270.0,257.0 304.5,260.0 310.0,258.0 328.5,250.0 359.5,279.0 392.0,252.0 399.3,267.0 408.3,251.0 413.5,252.0 418.5,252.0 418.5,400.0 39.0,400.0" fill="#f26f3d"/>
<polygon points="39.0,281.3 99.0,273.3 107.0,276.8 140.0,277.5 178.0,276.0 190.0,270.0 212.0,265.0 218.0,270.0 232.0,261.0 250.0,259.0 270.0,259.0 304.5,262.0 310.0,260.0 328.5,252.0 359.5,281.0 392.0,254.0 399.3,269.0 408.3,253.0 413.5,254.0 418.5,254.0 418.5,400.0 39.0,400.0" fill="#f2703e"/>
<polygon points="39.0,283.3 99.0,275.3 107.0,278.8 140.0,279.5 178.0,278.0 190.0,272.0 212.0,267.0 218.0,272.0 232.0,263.0 250.0,261.0 270.0,261.0 304.5,264.0 310.0,262.0 328.5,254.0 359.5,283.0 392.0,256.0 399.3,271.0 408.3,255.0 413.5,256.0 418.5,256.0 418.5,400.0 39.0,400.0" fill="#f2703e"/>
<polygon points="39.0,285.3 99.0,277.3 107.0,280.8 140.0,281.5 178.0,280.0 190.0,274.0 212.0,269.0 218.0,274.0 232.0,265.0 250.0,263.0 270.0,263.0 304.5,266.0 310.0,264.0 328.5,256.0 359.5,285.0 392.0,258.0 399.3,273.0 408.3,257.0 413.5,258.0 418.5,258.0 418.5,400.0 39.0,400.0" fill="#f2703e"/>
<polygon points="39.0,287.3 99.0,279.3 107.0,282.8 140.0,283.5 178.0,282.0 190.0,276.0 212.0,271.0 218.0,276.0 232.0,267.0 250.0,265.0 270.0,265.0 304.5,268.0 310.0,266.0 328.5,258.0 359.5,287.0 392.0,260.0 399.3,275.0 408.3,259.0 413.5,260.0 418.5,260.0 418.5,400.0 39.0,400.0" fill="#f2713f"/>
<polygon points="39.0,289.3 99.0,281.3 107.0,284.8 140.0,285.5 178.0,284.0 190.0,278.0 212.0,273.0 218.0,278.0 232.0,269.0 250.0,267.0 270.0,267.0 304.5,270.0 310.0,268.0 328.5,260.0 359.5,289.0 392.0,262.0 399.3,277.0 408.3,261.0 413.5,262.0 418.5,262.0 418.5,400.0 39.0,400.0" fill="#f1713f"/>
<polygon points="39.0,291.3 99.0,283.3 107.0,286.8 140.0,287.5 178.0,286.0 190.0,280.0 212.0,275.0 218.0,280.0 232.0,271.0 250.0,269.0 270.0,269.0 304.5,272.0 310.0,270.0 328.5,262.0 359.5,291.0 392.0,264.0 399.3,279.0 408.3,263.0 413.5,264.0 418.5,264.0 418.5,400.0 39.0,400.0" fill="#f17240"/>
<polygon points="39.0,293.3 99.0,285.3 107.0,288.8 140.0,289.5 178.0,288.0 190.0,282.0 212.0,277.0 218.0,282.0 232.0,273.0 250.0,271.0 270.0,271.0 304.5,274.0 310.0,272.0 328.5,264.0 359.5,293.0 392.0,266.0 399.3,281.0 408.3,265.0 413.5,266.0 418.5,266.0 418.5,400.0 39.0,400.0" fill="#f17240"/>
<polygon points="39.0,295.3 99.0,287.3 107.0,290.8 140.0,291.5 178.0,290.0 190.0,284.0 212.0,279.0 218.0,284.0 232.0,275.0 250.0,273.0 270.0,273.0 304.5,276.0 310.0,274.0 328.5,266.0 359.5,295.0 392.0,268.0 399.3,283.0 408.3,267.0 413.5,268.0 418.5,268.0 418.5,400.0 39.0,400.0" fill="#f17240"/>
<polygon points="39.0,297.3 99.0,289.3 107.0,292.8 140.0,293.5 178.0,292.0 190.0,286.0 212.0,281.0 218.0,286.0 232.0,277.0 250.0,275.0 270.0,275.0 304.5,278.0 310.0,276.0 328.5,268.0 359.5,297.0 392.0,270.0 399.3,285.0 408.3,269.0 413.5,270.0 418.5,270.0 418.5,400.0 39.0,400.0" fill="#f17341"/>
<polygon points="39.0,299.3 99.0,291.3 107.0,294.8 140.0,295.5 178.0,294.0 190.0,288.0 212.0,283.0 218.0,288.0 232.0,279.0 250.0,277.0 270.0,277.0 304.5,280.0 310.0,278.0 328.5,270.0 359.5,299.0 392.0,272.0 399.3,287.0 408.3,271.0 413.5,272.0 418.5,272.0 418.5,400.0 39.0,400.0" fill="#f17341"/>
<polygon points="39.0,301.3 99.0,293.3 107.0,296.8 140.0,297.5 178.0,296.0 190.0,290.0 212.0,285.0 218.0,290.0 232.0,281.0 250.0,279.0 270.0,279.0 304.5,282.0 310.0,280.0 328.5,272.0 359.5,301.0 392.0,274.0 399.3,289.0 408.3,273.0 413.5,274.0 418.5,274.0 418.5,400.0 39.0,400.0" fill="#f17341"/>
<polygon points="39.0,303.3 99.0,295.3 107.0,298.8 140.0,299.5 178.0,298.0 190.0,292.0 212.0,287.0 218.0,292.0 232.0,283.0 250.0,281.0 270.0,281.0 304.5,284.0 310.0,282.0 328.5,274.0 359.5,303.0 392.0,276.0 399.3,291.0 408.3,275.0 413.5,276.0 418.5,276.0 418.5,400.0 39.0,400.0" fill="#f17442"/>
<polygon points="39.0,305.3 99.0,297.3 107.0,300.8 140.0,301.5 178.0,300.0 190.0,294.0 212.0,289.0 218.0,294.0 232.0,285.0 250.0,283.0 270.0,283.0 304.5,286.0 310.0,284.0 328.5,276.0 359.5,305.0 392.0,278.0 399.3,293.0 408.3,277.0 413.5,278.0 418.5,278.0 418.5,400.0 39.0,400.0" fill="#f17442"/>
<polygon points="39.0,307.3 99.0,299.3 107.0,302.8 140.0,303.5 178.0,302.0 190.0,296.0 212.0,291.0 218.0,296.0 232.0,287.0 250.0,285.0 270.0,285.0 304.5,288.0 310.0,286.0 328.5,278.0 359.5,307.0 392.0,280.0 399.3,295.0 408.3,279.0 413.5,280.0 418.5,280.0 418.5,400.0 39.0,400.0" fill="#f17442"/>
<polygon points="39.0,309.3 99.0,301.3 107.0,304.8 140.0,305.5 178.0,304.0 190.0,298.0 212.0,293.0 218.0,298.0 232.0,289.0 250.0,287.0 270.0,287.0 304.5,290.0 310.0,288.0 328.5,280.0 359.5,309.0 392.0,282.0 399.3,297.0 408.3,281.0 413.5,282.0 418.5,282.0 418.5,400.0 39.0,400.0" fill="#f07543"/>
<polygon points="39.0,311.3 99.0,303.3 107.0,306.8 140.0,307.5 178.0,306.0 190.0,300.0 212.0,295.0 218.0,300.0 232.0,291.0 250.0,289.0 270.0,289.0 304.5,292.0 310.0,290.0 328.5,282.0 359.5,311.0 392.0,284.0 399.3,299.0 408.3,283.0 413.5,284.0 418.5,284.0 418.5,400.0 39.0,400.0" fill="#f07543"/>
<polygon points="39.0,313.3 99.0,305.3 107.0,308.8 140.0,309.5 178.0,308.0 190.0,302.0 212.0,297.0 218.0,302.0 232.0,293.0 250.0,291.0 270.0,291.0 304.5,294.0 310.0,292.0 328.5,284.0 359.5,313.0 392.0,286.0 399.3,301.0 408.3,285.0 413.5,286.0 418.5,286.0 418.5,400.0 39.0,400.0" fill="#f07543"/>
<polygon points="39.0,315.3 99.0,307.3 107.0,310.8 140.0,311.5 178.0,310.0 190.0,304.0 212.0,299.0 218.0,304.0 232.0,295.0 250.0,293.0 270.0,293.0 304.5,296.0 310.0,294.0 328.5,286.0 359.5,315.0 392.0,288.0 399.3,303.0 408.3,287.0 413.5,288.0 418.5,288.0 418.5,400.0 39.0,400.0" fill="#f07644"/>
</g>
<g clip-path="url(#hekk)">
<rect x="150" y="60" width="270" height="120" fill="#0c0cdc"/>
<polygon points="266,121.5 279,119 279,60 420,60 420,180 266,180" fill="#007016"/>
</g>
<polygon points="42.3,63.0 47.0,65.4 100.5,65.4 107.0,73.2 152.0,84.3 196.0,90.8 212.0,93.6 218.0,110.0 232.0,120.0 256.0,130.3 266.0,133.5 288.0,138.5 304.5,142.0 328.5,133.0 359.5,177.5 391.5,151.0 399.3,166.5 408.3,149.5 413.5,151.5 413.5,257.0 408.3,255.0 399.3,270.7 392.0,255.0 359.5,281.0 328.5,240.0 304.5,249.7 288.0,246.0 256.0,238.0 236.0,231.0 218.0,222.5 213.0,209.5 210.0,207.5 196.0,206.0 152.0,202.0 107.0,193.0 100.5,189.3 47.0,180.4 44.8,180.0" fill="url(#lithC)"/>
<polygon points="152.0,65.4 170.0,65.4 190.0,65.4 196.5,65.4 200.0,66.9 210.0,71.1 211.5,71.7 213.0,77.1 215.5,86.0 218.0,95.0 235.0,101.0 266.0,116.2 288.0,121.6 304.5,125.8 328.5,116.2 359.5,163.2 391.5,135.2 399.3,151.2 408.3,133.4 413.5,135.2 413.5,139.0 408.3,137.2 399.3,155.0 391.5,139.0 359.5,167.8 328.5,121.0 304.5,130.6 288.0,126.2 266.0,120.8 235.0,107.0 218.0,100.3 215.5,93.0 213.0,80.5 211.5,79.0 210.0,77.5 200.0,74.0 196.5,73.1 190.0,71.3 170.0,68.8 152.0,65.4" fill="url(#lithC)"/>
<polyline points="42.3,63.0 47.0,65.4 413.5,65.4" fill="none" stroke="#333" stroke-opacity="0.80" stroke-width="0.70" stroke-linejoin="round"/>
<polyline points="43.8,152.3 47.0,152.9 100.5,163.0 107.0,168.0 152.0,175.5 196.0,180.0 212.0,182.0 217.0,190.0 219.0,196.0 236.0,205.0 256.0,212.0 288.0,219.5 304.5,223.0 328.5,214.0 359.5,256.0 391.5,229.5 399.3,246.0 408.3,229.5 413.5,231.0" fill="none" stroke="#000" stroke-opacity="0.62" stroke-width="0.70" stroke-linejoin="round"/>
<polyline points="47.0,65.4 100.5,79.6 107.0,86.0 152.0,94.5 196.0,101.0 212.0,105.0 218.0,120.0 236.0,129.5 256.0,138.5 266.0,142.0 288.0,146.0 304.5,149.5 328.5,141.0 359.5,184.0 391.5,159.5 399.3,175.0 408.3,158.5 413.5,160.5" fill="none" stroke="#000" stroke-opacity="0.62" stroke-width="0.70" stroke-linejoin="round"/>
<polyline points="44.8,180.0 47.0,180.4 100.5,189.3 107.0,193.0 152.0,202.0 196.0,206.0 210.0,207.5 213.0,209.5 218.0,222.5 236.0,231.0 256.0,238.0 288.0,246.0 304.5,249.7 328.5,240.0 359.5,281.0 392.0,255.0 399.3,270.7 408.3,255.0 413.5,257.0" fill="none" stroke="#333" stroke-opacity="0.35" stroke-width="0.70" stroke-linejoin="round"/>
<polyline points="100.5,65.4 107.0,73.2 152.0,84.3 196.0,90.8 212.0,93.6 218.0,110.0 232.0,120.0 256.0,130.3 266.0,133.5 288.0,138.5 304.5,142.0 328.5,133.0 359.5,177.5 391.5,151.0 399.3,166.5 408.3,149.5 413.5,151.5" fill="none" stroke="#222" stroke-opacity="0.65" stroke-width="0.70" stroke-linejoin="round"/>
<polyline points="152.0,65.4 170.0,68.8 190.0,71.3 200.0,74.0 210.0,77.5 213.0,80.5 215.5,93.0 218.0,100.3 235.0,107.0 266.0,120.8 288.0,126.2 304.5,130.6 328.5,121.0 359.5,167.8 391.5,139.0 399.3,155.0 408.3,137.2 413.5,139.0" fill="none" stroke="#222" stroke-opacity="0.65" stroke-width="0.70" stroke-linejoin="round"/>
<polyline points="152.0,65.4 196.5,65.4 211.5,71.7 218.0,95.0 235.0,101.0 266.0,116.2 288.0,121.6 304.5,125.8 328.5,116.2 359.5,163.2 391.5,135.2 399.3,151.2 408.3,133.4 413.5,135.2" fill="none" stroke="#222" stroke-opacity="0.65" stroke-width="0.70" stroke-linejoin="round"/>
<polyline points="212.0,65.4 215.0,80.0 219.0,92.0 235.0,97.3 266.0,113.0 288.0,118.5 304.5,123.0 328.5,112.0 359.5,159.0 391.5,131.0 399.3,147.0 408.3,129.8 413.5,131.5" fill="none" stroke="#222" stroke-opacity="0.65" stroke-width="0.70" stroke-linejoin="round"/>
<polyline points="219.0,65.4 234.0,77.0 256.0,89.5 266.0,95.0 288.0,103.0 304.5,106.0 328.5,96.0 359.5,145.5 391.5,118.0 399.3,133.0 408.3,117.0 413.5,119.0" fill="none" stroke="#222" stroke-opacity="0.65" stroke-width="0.70" stroke-linejoin="round"/>
<polyline points="266.0,65.4 288.0,72.0 304.5,78.0 328.5,65.9 329.5,65.4 359.7,124.0 391.5,94.0 399.3,112.0 408.3,93.0 413.5,95.0" fill="none" stroke="#222" stroke-opacity="0.65" stroke-width="0.70" stroke-linejoin="round"/>
<polyline points="329.5,65.4 359.7,121.2 391.5,92.3 399.3,110.0 408.3,91.5 413.5,93.0" fill="none" stroke="#222" stroke-opacity="0.65" stroke-width="0.70" stroke-linejoin="round"/>
<polyline points="391.5,65.4 399.3,82.0 407.3,65.4 413.5,66.9" fill="none" stroke="#222" stroke-opacity="0.65" stroke-width="0.70" stroke-linejoin="round"/>
<polyline points="100.5,65.4 107.0,67.4 152.0,70.1 170.0,73.3 190.0,76.0 196.0,77.4 200.0,78.4 210.0,81.4 212.0,83.0 213.0,84.5 215.5,95.5 218.0,102.7 232.0,109.4 235.0,110.6 256.0,119.8 266.0,124.0 288.0,129.3 304.5,133.4 328.5,124.0 359.5,170.2 391.5,142.0 399.3,157.9 408.3,140.3 413.5,142.1" fill="none" stroke="#333" stroke-opacity="0.42" stroke-width="0.60" stroke-linejoin="round"/>
<polyline points="100.5,65.4 107.0,69.3 152.0,74.8 170.0,77.9 190.0,80.6 196.0,81.9 200.0,82.8 210.0,85.4 212.0,86.5 213.0,88.4 215.5,98.1 218.0,105.2 232.0,112.9 235.0,114.1 256.0,123.3 266.0,127.2 288.0,132.3 304.5,136.3 328.5,127.0 359.5,172.7 391.5,145.0 399.3,160.8 408.3,143.3 413.5,145.2" fill="none" stroke="#333" stroke-opacity="0.42" stroke-width="0.60" stroke-linejoin="round"/>
<polyline points="100.5,65.4 107.0,71.2 152.0,79.6 170.0,82.4 190.0,85.3 196.0,86.3 200.0,87.1 210.0,89.3 212.0,90.1 213.0,92.4 215.5,100.6 218.0,107.6 232.0,116.5 235.0,117.7 256.0,126.8 266.0,130.3 288.0,135.4 304.5,139.2 328.5,130.0 359.5,175.1 391.5,148.0 399.3,163.6 408.3,146.4 413.5,148.4" fill="none" stroke="#333" stroke-opacity="0.42" stroke-width="0.60" stroke-linejoin="round"/>
</g>
<rect x="42.0" y="2.5" width="58.5" height="11.0" fill="#a94caf"/>
<text x="71.2" y="11.4" text-anchor="middle" font-size="7.5" fill="#000">Triassic</text>
<rect x="100.5" y="2.5" width="85.7" height="11.0" fill="#17b7ea"/>
<text x="143.3" y="11.4" text-anchor="middle" font-size="7.5" fill="#000">Jurassic</text>
<rect x="186.2" y="2.5" width="125.3" height="11.0" fill="#62c85c"/>
<text x="248.8" y="11.4" text-anchor="middle" font-size="7.5" fill="#000">Cretaceous</text>
<rect x="311.5" y="2.5" width="66.8" height="11.0" fill="#fda65e"/>
<text x="344.9" y="11.4" text-anchor="middle" font-size="7.5" fill="#000">Paleogene</text>
<rect x="378.3" y="2.5" width="33.0" height="11.0" fill="#f7ee12"/>
<text x="394.8" y="11.4" text-anchor="middle" font-size="7.5" fill="#000">Neogene</text>
<rect x="411.3" y="2.5" width="3.2" height="11.0" fill="#f3e27e"/>
<rect x="42.0" y="13.5" width="13.3" height="10.0" fill="#c87ac6"/>
<rect x="55.3" y="13.5" width="45.2" height="10.0" fill="#d8a5d9"/>
<text x="77.9" y="21.9" text-anchor="middle" font-size="7.5" fill="#000">U Tri.</text>
<rect x="100.5" y="13.5" width="37.7" height="10.0" fill="#1cb6ec"/>
<text x="119.3" y="21.9" text-anchor="middle" font-size="7.5" fill="#000">L Jur.</text>
<rect x="138.2" y="13.5" width="22.5" height="10.0" fill="#14c4ea"/>
<rect x="160.7" y="13.5" width="25.5" height="10.0" fill="#a9e1f5"/>
<text x="173.4" y="21.9" text-anchor="middle" font-size="7.5" fill="#000">U Jur.</text>
<rect x="186.2" y="13.5" width="71.8" height="10.0" fill="#7fce73"/>
<text x="222.1" y="21.9" text-anchor="middle" font-size="7.5" fill="#000">Lower Cretaceous</text>
<rect x="258.0" y="13.5" width="53.5" height="10.0" fill="#a0d253"/>
<text x="284.8" y="21.9" text-anchor="middle" font-size="7.5" fill="#000">U Crt.</text>
<rect x="311.5" y="13.5" width="15.8" height="10.0" fill="#fdb074"/>
<rect x="327.3" y="13.5" width="34.0" height="10.0" fill="#fdb97f"/>
<text x="344.3" y="21.9" text-anchor="middle" font-size="7.5" fill="#000">Eocene</text>
<rect x="361.3" y="13.5" width="17.0" height="10.0" fill="#fdc592"/>
<text x="369.8" y="21.9" text-anchor="middle" font-size="7.5" fill="#000">Oli.</text>
<rect x="378.3" y="13.5" width="28.1" height="10.0" fill="#fff200"/>
<text x="392.4" y="21.9" text-anchor="middle" font-size="7.5" fill="#000">Mio.</text>
<rect x="406.4" y="13.5" width="4.9" height="10.0" fill="#fff59c"/>
<rect x="411.3" y="13.5" width="3.2" height="10.0" fill="#f8e8a8"/>
<path d="M41.5 2.5H414.5M41.5 13.5H414.5M41.5 23.5H414.5M42.0 2.5V23.5M100.5 2.5V23.5M186.2 2.5V23.5M311.5 2.5V23.5M378.3 2.5V23.5M411.3 2.5V23.5M55.3 13.5V23.5M138.2 13.5V23.5M160.7 13.5V23.5M258.0 13.5V23.5M327.3 13.5V23.5M361.3 13.5V23.5M406.4 13.5V23.5" stroke="#2a2a2a" stroke-width="1" fill="none" stroke-opacity="0.85"/>
<path d="M42 24V282M40.2 27.15H42M40.2 30.91H42M39.0 34.67H42M40.2 38.44H42M40.2 42.20H42M40.2 45.97H42M40.2 49.73H42M38.0 53.50H42M40.2 57.27H42M40.2 61.03H42M40.2 64.80H42M40.2 68.56H42M39.0 72.33H42M40.2 76.09H42M40.2 79.85H42M40.2 83.62H42M40.2 87.38H42M39.0 91.15H42M40.2 94.91H42M40.2 98.68H42M40.2 102.44H42M40.2 106.21H42M39.0 109.97H42M40.2 113.74H42M40.2 117.50H42M40.2 121.27H42M40.2 125.03H42M38.0 128.80H42M40.2 132.56H42M40.2 136.33H42M40.2 140.09H42M40.2 143.86H42M39.0 147.62H42M40.2 151.39H42M40.2 155.15H42M40.2 158.92H42M40.2 162.69H42M39.0 166.45H42M40.2 170.21H42M40.2 173.98H42M40.2 177.75H42M40.2 181.51H42M39.0 185.27H42M40.2 189.04H42M40.2 192.80H42M40.2 196.57H42M40.2 200.33H42M38.0 204.10H42M40.2 207.86H42M40.2 211.63H42M40.2 215.39H42M40.2 219.16H42M39.0 222.92H42M40.2 226.69H42M40.2 230.45H42M40.2 234.22H42M40.2 237.98H42M39.0 241.75H42M40.2 245.51H42M40.2 249.28H42M40.2 253.04H42M40.2 256.81H42M39.0 260.57H42M40.2 264.34H42M40.2 268.11H42M40.2 271.87H42M40.2 275.63H42M38.0 279.40H42M42 281.7H414M414.50 281.7V286.7M398.80 281.7V283.7M383.10 281.7V283.7M367.40 281.7V283.7M351.70 281.7V283.7M336.00 281.7V286.7M320.30 281.7V283.7M304.60 281.7V283.7M288.90 281.7V283.7M273.20 281.7V283.7M257.50 281.7V286.7M241.80 281.7V283.7M226.10 281.7V283.7M210.40 281.7V283.7M194.70 281.7V283.7M179.00 281.7V286.7M163.30 281.7V283.7M147.60 281.7V283.7M131.90 281.7V283.7M116.20 281.7V283.7M100.50 281.7V286.7M84.80 281.7V283.7M69.10 281.7V283.7M53.40 281.7V283.7" stroke="#333" stroke-width="0.9" fill="none" stroke-opacity="0.8"/>
<rect x="413.2" y="23.5" width="2.1" height="242" fill="#0a0a0a"/>
<rect x="413.4" y="265.5" width="1.7" height="7" fill="#666"/><rect x="413.9" y="272" width="1" height="12" fill="#555"/>
<text x="34" y="56.1" text-anchor="end">0</text>
<text x="34" y="131.4" text-anchor="end">2000</text>
<text x="34" y="206.7" text-anchor="end">4000</text>
<text x="34" y="282.0" text-anchor="end">6000</text>
<text x="414.5" y="296.2" text-anchor="middle">0</text>
<text x="335.5" y="296.2" text-anchor="middle">50</text>
<text x="257.0" y="296.2" text-anchor="middle">100</text>
<text x="178.5" y="296.2" text-anchor="middle">150</text>
<text x="100.0" y="296.2" text-anchor="middle">200</text>
<text x="228.3" y="305.2" text-anchor="middle" font-size="7.1">Time [Ma]</text>
<rect x="43.5" y="240.2" width="148.3" height="38.8" fill="#fff" stroke="#bdbdbd" stroke-width="1"/>
<path d="M44 279.6H192.5V241" stroke="#999" stroke-width="0.8" fill="none" stroke-opacity="0.5"/>
<linearGradient id="lgG" x1="0" x2="1" y1="0" y2="0"><stop offset="0" stop-color="#005a28"/><stop offset="0.25" stop-color="#00781a"/><stop offset="1" stop-color="#28e664"/></linearGradient>
<linearGradient id="lgR" x1="0" x2="1" y1="0" y2="0"><stop offset="0" stop-color="#ff0800"/><stop offset="0.3" stop-color="#ff3000"/><stop offset="1" stop-color="#f59a78"/></linearGradient>
<rect x="57.5" y="245.3" width="14.3" height="5.6" fill="#0a0ae0"/>
<rect x="71.8" y="245.3" width="17.7" height="5.6" fill="url(#lgG)"/>
<rect x="89.5" y="245.3" width="65.2" height="5.6" fill="url(#lgR)"/>
<rect x="154.7" y="245.3" width="25.9" height="5.6" fill="#fff000"/>
<path d="M57.50 250.9v2.6M62.42 250.9v1.5M67.35 250.9v1.5M72.27 250.9v1.5M77.20 250.9v1.5M82.12 250.9v2.6M87.04 250.9v1.5M91.97 250.9v1.5M96.89 250.9v1.5M101.82 250.9v1.5M106.74 250.9v2.6M111.66 250.9v1.5M116.59 250.9v1.5M121.51 250.9v1.5M126.44 250.9v1.5M131.36 250.9v2.6M136.28 250.9v1.5M141.21 250.9v1.5M146.13 250.9v1.5M151.06 250.9v1.5M155.98 250.9v2.6M160.90 250.9v1.5M165.83 250.9v1.5M170.75 250.9v1.5M175.68 250.9v1.5M180.60 250.9v2.6" stroke="#333" stroke-width="0.8" stroke-opacity="0.8" fill="none"/>
<text x="57.5" y="263.1" text-anchor="middle" font-size="7.6" fill="#111">0.00</text>
<text x="82.1" y="263.1" text-anchor="middle" font-size="7.6" fill="#111">1.00</text>
<text x="106.7" y="263.1" text-anchor="middle" font-size="7.6" fill="#111">2.00</text>
<text x="131.4" y="263.1" text-anchor="middle" font-size="7.6" fill="#111">3.00</text>
<text x="156.0" y="263.1" text-anchor="middle" font-size="7.6" fill="#111">4.00</text>
<text x="180.6" y="263.1" text-anchor="middle" font-size="7.6" fill="#111">5.00</text>
<text x="116" y="274.8" text-anchor="middle" font-size="7.55" fill="#111">Vitrinite Reflectance [%Ro]</text>
<rect x="422.5" y="24.5" width="21.5" height="257" fill="#fff"/>
<rect x="423.0" y="68.0" width="20.5" height="67.0" fill="url(#lithG)"/>
<rect x="423.0" y="135.0" width="20.5" height="8.3" fill="url(#lithG)"/>
<rect x="423.0" y="143.3" width="20.5" height="3.9" fill="url(#lithY)"/>
<rect x="423.0" y="147.2" width="20.5" height="7.8" fill="url(#lithG)"/>
<rect x="423.0" y="155.0" width="20.5" height="9.3" fill="url(#lithY)"/>
<rect x="423.0" y="164.3" width="20.5" height="71.9" fill="url(#lith)"/>
<rect x="423.0" y="236.2" width="20.5" height="9.8" fill="url(#lithG)"/>
<rect x="423.0" y="246.0" width="20.5" height="14.6" fill="url(#lith)"/>
<rect x="422.5" y="24.5" width="21.5" height="257" fill="none" stroke="#222" stroke-width="1" stroke-opacity="0.85"/>
<path d="M422.5 65.5H447.6M422.5 68.0H447.6M422.5 92.5H447.6M422.5 95.0H447.6M422.5 120.4H444.0M422.5 135.0H447.6M422.5 138.2H447.6M422.5 143.3H447.6M422.5 147.2H447.6M422.5 151.0H447.6M422.5 155.0H447.6M422.5 164.3H447.6M422.5 236.2H447.6M422.5 260.6H447.6" stroke="#333" stroke-width="0.8" stroke-opacity="0.8" fill="none"/>
<text x="450.4" y="69.5" font-size="7.25" fill="#000">Seabed PSM (Depth 1)</text>
<text x="450.4" y="83.5" font-size="7.25" fill="#000">Torsk PSM (Depth 1)</text>
<text x="450.4" y="97.6" font-size="7.25" fill="#000">Kveite^Kviting PSM (Depth 1)</text>
<text x="450.4" y="111.3" font-size="7.25" fill="#000">Kolmule PSM (Depth 1)</text>
<text x="450.4" y="130.6" font-size="7.25" fill="#000">Kolje PSM (Depth 1)</text>
<text x="450.4" y="144.1" font-size="7.25" fill="#000">Hekkingen new PSM 500x500</text>
<text x="450.4" y="152.8" font-size="7.25" fill="#000">NORDMELAPSM</text>
<text x="450.4" y="163.1" font-size="7.25" fill="#000">FRUHOLMENPSM</text>
<text x="450.4" y="203.1" font-size="7.25" fill="#000">SNADDPSM</text>
<text x="450.4" y="251.5" font-size="7.25" fill="#000">Kobbe PSM (Depth 1)</text>
</svg>
<div class="ylab">Depth [m]</div>
</body></html>
